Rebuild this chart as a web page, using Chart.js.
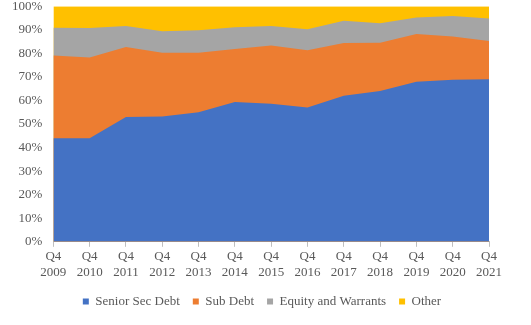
<!DOCTYPE html>
<html><head><meta charset="utf-8">
<script src="https://cdn.jsdelivr.net/npm/chart.js@4"></script>
<style>html,body{margin:0;padding:0;background:#fff}#wrap{width:531px;height:325px}</style>
</head><body><div id="wrap"><canvas id="c"></canvas></div>
<script>
const categories = ["2009","2010","2011","2012","2013","2014","2015","2016","2017","2018","2019","2020","2021"];
const seniorSecDebt = [44, 44, 53, 53.2, 55, 59.3, 58.6, 57, 62, 64, 68, 68.8, 69];
const subDebt = [35.1, 34.2, 29.7, 27.1, 25.3, 22.5, 24.7, 24.3, 22.4, 20.5, 20.2, 18.4, 16.2];
const equityAndWarrants = [11.8, 12.6, 8.9, 9.1, 9.5, 9.3, 8.3, 8.9, 9.4, 8.3, 7, 8.7, 9.6];
const other = [9.1, 9.2, 8.4, 10.6, 10.2, 8.9, 8.4, 9.8, 6.2, 7.2, 4.8, 4.1, 5.2];
const yTicks = [0,10,20,30,40,50,60,70,80,90,100];

const labels = categories.map(y => ["Q4", y]);
const font = {family: "'Liberation Serif', 'Times New Roman', serif", size: 13};
function ds(label, data, color) {
  return {label, data, backgroundColor: color, borderColor: color, borderWidth: 0,
    fill: true, pointRadius: 0, tension: 0};
}
new Chart(document.getElementById('c'), {
  type: 'line',
  data: {labels, datasets: [
    ds('Senior Sec Debt', seniorSecDebt, '#4472C4'),
    ds('Sub Debt', subDebt, '#ED7D31'),
    ds('Equity and Warrants', equityAndWarrants, '#A5A5A5'),
    ds('Other', other, '#FFC000')
  ]},
  options: {
    responsive: true, maintainAspectRatio: false, animation: false,
    layout: {padding: {left: 9, right: 16, top: 0, bottom: 7}},
    plugins: {
      legend: {position: 'bottom', labels: {font, color: '#595959', boxWidth: 6, boxHeight: 6, padding: 13}},
      tooltip: {enabled: false}
    },
    scales: {
      x: {offset: false,
        afterFit: ax => { ax.paddingRight = 42; },
        grid: {display: true, drawOnChartArea: false, drawTicks: true, tickLength: 5, color: '#BFBFBF'},
        border: {display: true, color: '#BFBFBF'},
        ticks: {font, color: '#595959', maxRotation: 0, autoSkip: false, padding: 2}},
      y: {stacked: true, min: 0, max: 100,
        afterBuildTicks: ax => { ax.ticks = yTicks.map(v => ({value: v})); },
        grid: {display: false},
        border: {display: false},
        ticks: {font: {...font, lineHeight: 0.5}, color: '#595959', padding: 3, callback: v => v + '%'}}
    }
  }
});
</script></body></html>
